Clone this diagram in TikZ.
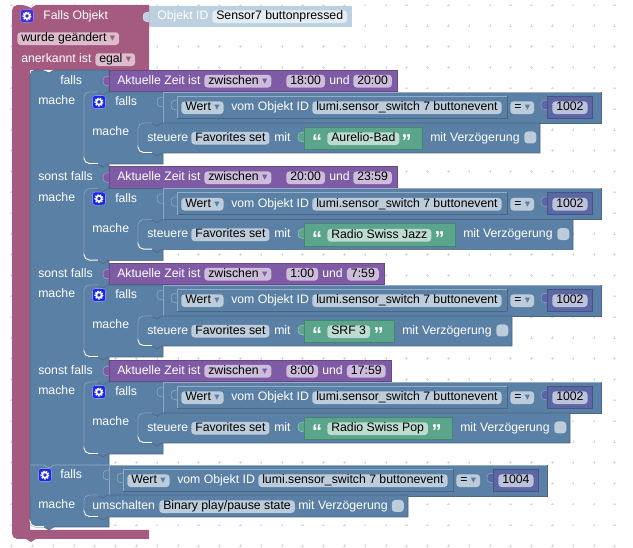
\documentclass[tikz,border=0pt]{standalone}
\usepackage{fontspec}
\setmainfont{Liberation Sans}
\newfontfamily\arrowfont{DejaVu Sans}
\usetikzlibrary{calc}
\definecolor{blockpink}{HTML}{A55B80}
\definecolor{blockblue}{HTML}{5B80A5}
\definecolor{blockpurple}{HTML}{805BA5}
\definecolor{blockgreen}{HTML}{5BA58C}
\definecolor{blocknum}{HTML}{5B67A5}
\definecolor{blockpale}{HTML}{BDD0DF}
\definecolor{fieldblue}{HTML}{BDCCDB}
\definecolor{fieldpink}{HTML}{DBBDCC}
\definecolor{fieldpurple}{HTML}{CCBDDB}
\definecolor{fieldgreen}{HTML}{BDDBD1}
\definecolor{fieldnum}{HTML}{BDC2DB}
\definecolor{fieldpale}{HTML}{E5ECF2}
\definecolor{gridgray}{HTML}{DADADA}
\newcommand{\dd}[1]{\hspace{2.5pt}{\arrowfont\fontsize{8}{8}\selectfont\textcolor{#1}{▾}}\hspace{1pt}}
\tikzset{
  x=0.75pt, y=-0.75pt,
  every node/.style={font=\fontsize{9.2}{11}\selectfont},
  lbl/.style={text=white, inner sep=0pt, anchor=west, text height=6.6pt, text depth=1.9pt, yshift=-0.5pt},
  fld/.style={text=black, fill=#1, rounded corners=2.6pt, inner xsep=3pt, inner ysep=0.4pt, anchor=west,
    text height=6.8pt, text depth=2pt, yshift=-0.5pt},
  fld/.default=fieldblue,
  chk/.style={fill=fieldblue, rounded corners=2.6pt, inner sep=0pt, minimum size=9pt, anchor=west},
  quot/.style={text=white, inner sep=0pt, font=\fontsize{15}{15}\bfseries},
  dark/.style={draw=#1!80!black, line width=0.4pt},
  lite/.style={draw=#1!65!white, line width=0.5pt},
  tabshape/.pic={
    \path[fill=#1, draw=#1!65!white, line width=0.4pt] (0,0) .. controls (-1,1) and (-6,-1) .. (-6,5)
      .. controls (-6,11) and (-1,9) .. (0,10);
  },
  gearicon/.pic={
    \fill[#1, draw=white!60!#1, line width=0.4pt, rounded corners=2pt] (-6.5,-6.5) rectangle (6.5,6.5);
    \draw[white, line width=1.4pt, dash pattern=on 1.1pt off 0.75pt] (0,0) circle (3.6);
    \draw[white, line width=1.1pt] (0,0) circle (2.6);
  },
  cmpblock/.pic={
    \path[fill=blockblue, dark=blockblue] (0,0) rectangle (438,31);
    \draw[lite=blockblue] (0,31) -- (0,0) -- (438,0);
    \pic at (0,5) {tabshape=blockblue};
    \path[fill=blockblue, dark=blockblue] (14,4) rectangle (344,26);
    \draw[lite=blockblue] (14,26) -- (14,4) -- (344,4);
    \pic at (14,8) {tabshape=blockblue};
    \node[fld] (wert) at (18,15) {Wert\dd{blockblue}};
    \node[lbl] (vom) at (68,15) {vom Objekt ID};
    \node[fld] (lumi) at (149,15) {lumi.sensor\_switch 7 buttonevent};
    \node[fld] (eq) at (347,15) {=\dd{blockblue}};
    \path[fill=blocknum, dark=blocknum] (384,4) rectangle (429,26);
    \pic at (384,8) {tabshape=blocknum};
    \node[fld=fieldnum] (num) at (389,15) {#1};
  },
}
\begin{document}
\begin{tikzpicture}
  \useasboundingbox (0,0) rectangle (633,548);
  % grid
  \foreach \gx in {0,...,30} {
    \foreach \gy in {0,...,26} {
      \draw[gridgray, line width=0.4pt] ({11.5+\gx*20.8-1.3},{5+\gy*20.8}) -- ++(2.6,0)
        ({11.5+\gx*20.8},{5+\gy*20.8-1.3}) -- ++(0,2.6);
    }
  }
  % outer block and its trigger
  \path[fill=blockpale] (149,6) rectangle (352,27);
  \fill[blockpink, rounded corners=4pt] (12,20) -- (12,5) -- (26,5) [sharp corners] -- (31,8) -- (36,5) -- (149,5) -- (149,70) -- (30,70)
    -- (30,530) -- (149,530) -- (149,539) -- (36,539) -- (31,542) -- (26,539) [rounded corners=4pt] -- (12,539) -- cycle;
  \pic at (149,12) {tabshape=blockpale};
  \pic at (27,16) {gearicon=blue!50!blockpurple};
  \node[lbl] (oid) at (157,16) {Objekt ID};
  \node[fld=fieldpale] (sensor) at (212,16) {Sensor7 buttonpressed};
  \node[lbl] (head) at (43,16) {Falls Objekt};
  \node[fld=fieldpink] (changed) at (17,38) {wurde geändert\dd{blockpink}};
  \node[lbl] (ack) at (21,59) {anerkannt ist};
  \node[fld=fieldpink] (egal) at (95,59) {egal\dd{blockpink}};
  % blue column
  \path[fill=blockblue, dark=blockblue, rounded corners=4pt] (30,80) -- (30,70) -- (44,70) [sharp corners] -- (49,73) -- (54,70) -- (109,70)
    -- (109,527) -- (54,527) -- (49,530) -- (44,527) [rounded corners=4pt] -- (30,527) -- cycle;
  \draw[white, line width=0.7pt, rounded corners=4pt] (30,522) -- (30,526.5) -- (44,526.5);
  % conditions
  \foreach \i/\yy/\lab/\xl/\ta/\xu/\xb/\tb/\xr/\st/\xg/\xe in {
    a/70/falls/60/18:00/329/353/20:00/397/Aurelio-Bad/422/540,
    b/166.6/sonst falls/38/20:00/329/353/23:59/397/Radio Swiss Jazz/455/573,
    c/263/sonst falls/38/1:00/322/346.7/7:59/384/SRF 3/394/512,
    d/360/sonst falls/38/8:00/322/346.7/17:59/391/Radio Swiss Pop/452/570} {
    \path[fill=blockpurple, dark=blockpurple] (109,\yy) rectangle (\xr,\yy+21.5);
    \pic at (109,\yy+6) {tabshape=blockpurple};
    \node[lbl] (lab\i) at (\xl,\yy+10.5) {\lab};
    \node[lbl] (now\i) at (117,\yy+10.5) {Aktuelle Zeit ist};
    \node[fld=fieldpurple] (mode\i) at (204,\yy+10.5) {zwischen\dd{blockpurple}};
    \node[fld=fieldpurple] (from\i) at (286,\yy+10.5) {\ta};
    \node[lbl] (und\i) at (\xu,\yy+10.5) {und};
    \node[fld=fieldpurple] (to\i) at (\xb,\yy+10.5) {\tb};
    \node[lbl] (do\i) at (38,\yy+31) {mache};
    % nested block
    \path[fill=blockblue, dark=blockblue, rounded corners=4pt] (84,\yy+32) -- (84,\yy+22) -- (98,\yy+22) [sharp corners] -- (103,\yy+25) -- (108,\yy+22)
      -- (163,\yy+22) -- (163,\yy+94) -- (108,\yy+94)
      -- (103,\yy+97) -- (98,\yy+94) [rounded corners=4pt] -- (84,\yy+94) -- cycle;
    \draw[white, line width=0.7pt, rounded corners=4pt] (84,\yy+89) -- (84,\yy+93.5) -- (98,\yy+93.5);
    \draw[lite=blockblue, rounded corners=4pt] (84,\yy+88) -- (84,\yy+22) -- (98,\yy+22);
    \pic at (99,\yy+32) {gearicon=blue!70!blockblue};
    \node[lbl] (iff\i) at (115,\yy+32) {falls};
    \node[lbl] (then\i) at (92,\yy+62) {mache};
    \pic (cmp\i) at (163,\yy+22) {cmpblock=1002};
    % statement
    \path[fill=blockblue, dark=blockblue, rounded corners=4pt] (138,\yy+63) -- (138,\yy+53) -- (152,\yy+53) [sharp corners] -- (157,\yy+56) -- (162,\yy+53)
      -- (\xe,\yy+53) -- (\xe,\yy+83) -- (162,\yy+83)
      -- (157,\yy+86) -- (152,\yy+83) [rounded corners=4pt] -- (138,\yy+83) -- cycle;
    \draw[white, line width=0.7pt, rounded corners=4pt] (138,\yy+78) -- (138,\yy+82.5) -- (152,\yy+82.5);
    \draw[lite=blockblue, rounded corners=4pt] (138,\yy+77) -- (138,\yy+53) -- (152,\yy+53);
    \node[lbl] (set\i) at (147,\yy+67.5) {steuere};
    \node[fld] (fav\i) at (191,\yy+67.5) {Favorites set};
    \node[lbl] (with\i) at (274,\yy+67.5) {mit};
    \path[fill=blockgreen, dark=blockgreen] (304,\yy+57) rectangle (\xg,\yy+79.5);
    \pic at (304,\yy+62) {tabshape=blockgreen};
    \node[quot] (qa\i) at (317,\yy+72) {“};
    \node[fld=fieldgreen] (txt\i) at (327,\yy+68) {\st};
    \node[quot] (qb\i) at (\xg-15.5,\yy+72) {”};
    \node[lbl] (delay\i) at (\xg+8,\yy+67.5) {mit Verzögerung};
    \node[chk] (box\i) at (\xe-16,\yy+67.5) {};
  }
  % last condition
  \path[fill=blockblue] (30,465) rectangle (109,495);
  \draw[lite=blockblue] (30,465) -- (44,465) -- (49,468) -- (54,465) -- (109,465);
  \pic at (45,475) {gearicon=blue!70!blockblue};
  \node[lbl] (iffe) at (60,475) {falls};
  \node[lbl] (doe) at (38,505) {mache};
  \pic (cmpe) at (109,465) {cmpblock=1004};
  \path[fill=blockblue, dark=blockblue, rounded corners=4pt] (84,505) -- (84,495) -- (98,495) [sharp corners] -- (103,498) -- (108,495)
    -- (408,495) -- (408,517) -- (108,517) -- (103,520)
    -- (98,517) [rounded corners=4pt] -- (84,517) -- cycle;
  \draw[white, line width=0.7pt, rounded corners=4pt] (84,512) -- (84,516.5) -- (98,516.5);
  \draw[lite=blockblue, rounded corners=4pt] (84,511) -- (84,495) -- (98,495);
  \node[lbl] (swi) at (92,506) {umschalten};
  \node[fld] (bin) at (159,506) {Binary play/pause state};
  \node[lbl] (dele) at (298,506) {mit Verzögerung};
  \node[chk] (boxe) at (391.5,506) {};
\end{tikzpicture}
\end{document}
